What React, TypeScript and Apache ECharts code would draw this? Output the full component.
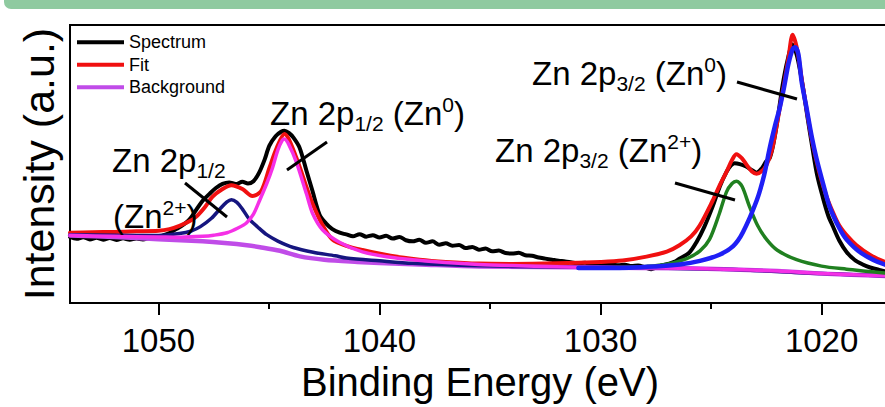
import React, { useEffect, useRef } from "react";
import * as echarts from "echarts";

// ---------- data (binding energy eV, intensity a.u.) ----------
const xTickValues = [1020, 1030, 1040, 1050];
const xMinorTickValues = [1025, 1035, 1045];
const legendNames = ["Spectrum", "Fit", "Background"];

const spectrum: [number, number][] = [
  [1054.0, 23.8], [1053.7, 23.1], [1053.4, 23.7], [1053.1, 22.9], [1052.8, 23.5], [1052.5, 22.8],
  [1052.2, 23.4], [1051.9, 22.7], [1051.6, 23.3], [1051.3, 22.8], [1051.0, 23.2], [1050.7, 22.9],
  [1050.4, 23.4], [1050.1, 23.6], [1049.8, 24.3], [1049.5, 25.2], [1049.2, 26.6], [1048.9, 28.0],
  [1048.6, 30.0], [1048.3, 33.4], [1048.0, 36.8], [1047.7, 39.2], [1047.4, 41.4], [1047.1, 42.9],
  [1046.8, 43.4], [1046.5, 42.8], [1046.2, 43.6], [1045.95, 43.0], [1045.7, 43.8], [1045.45, 46.8],
  [1045.2, 51.5], [1044.98, 56.6], [1044.7, 60.0], [1044.45, 61.6], [1044.3, 62.0], [1044.1, 61.2],
  [1043.9, 59.6], [1043.62, 56.0], [1043.3, 47.5], [1043.03, 40.3], [1042.71, 31.8], [1042.4, 28.5],
  [1042.13, 26.6], [1041.8, 25.3], [1041.5, 24.7], [1041.2, 24.0], [1040.9, 24.8], [1040.6, 23.9],
  [1040.3, 24.4], [1040.0, 23.6], [1039.7, 24.2], [1039.4, 23.2], [1039.1, 23.8], [1038.8, 22.6],
  [1038.5, 22.2], [1038.2, 22.8], [1037.9, 21.7], [1037.6, 22.2], [1037.3, 21.0], [1037.0, 21.5],
  [1036.7, 20.6], [1036.4, 20.9], [1036.1, 19.8], [1035.8, 20.2], [1035.5, 19.2], [1035.2, 19.6],
  [1034.9, 18.6], [1034.6, 18.9], [1034.3, 18.0], [1034.0, 17.8], [1033.7, 18.1], [1033.4, 17.2],
  [1033.1, 17.0], [1032.8, 16.4], [1032.5, 16.0], [1032.2, 15.6], [1031.9, 15.2], [1031.6, 15.0],
  [1031.3, 14.6], [1031.0, 14.3], [1030.7, 14.5], [1030.4, 14.0], [1030.1, 14.2], [1029.8, 13.8],
  [1029.5, 13.9], [1029.2, 13.6], [1028.9, 13.8], [1028.6, 13.3], [1028.3, 13.5], [1028.0, 12.9],
  [1027.7, 12.2], [1027.5, 12.7], [1027.2, 13.6], [1026.9, 14.2], [1026.6, 15.0], [1026.43, 16.0],
  [1026.0, 18.0], [1025.66, 21.9], [1025.3, 27.5], [1024.93, 34.7], [1024.6, 42.0], [1024.3, 47.2],
  [1024.1, 49.5], [1023.94, 50.3], [1023.7, 50.0], [1023.39, 49.0], [1023.15, 47.8], [1022.94, 46.9],
  [1022.7, 48.5], [1022.5, 51.0], [1022.35, 52.1], [1022.2, 56.5], [1022.04, 63.5], [1021.9, 71.0],
  [1021.76, 78.5], [1021.55, 87.0], [1021.31, 93.0], [1021.1, 88.5], [1020.86, 78.5], [1020.65, 67.5],
  [1020.41, 55.6], [1020.2, 46.0], [1019.95, 38.2], [1019.7, 31.5], [1019.5, 27.8], [1019.2, 22.5],
  [1018.87, 18.4], [1018.5, 15.5], [1018.14, 13.9], [1017.8, 12.8], [1017.5, 12.2], [1017.15, 11.5],
  [1016.6, 11.3], [1016.0, 11.0],
];

const fit: [number, number][] = [
  [1054.0, 25.3], [1053.0, 25.5], [1052.0, 25.6], [1051.0, 25.8], [1050.0, 26.0], [1049.5, 26.6],
  [1049.05, 27.8], [1048.6, 29.4], [1048.3, 31.0], [1047.9, 34.5], [1047.56, 38.2], [1047.1, 41.0],
  [1046.7, 42.4], [1046.2, 41.0], [1045.75, 38.5], [1045.35, 40.3], [1044.98, 48.6], [1044.66, 55.6],
  [1044.3, 60.8], [1043.8, 53.1], [1043.3, 41.7], [1043.03, 35.8], [1042.58, 28.1], [1042.13, 22.9],
  [1041.5, 20.6], [1040.77, 19.1], [1039.5, 17.0], [1038.19, 15.6], [1037.0, 14.8], [1035.5, 14.2],
  [1034.0, 14.1], [1032.0, 14.3], [1030.0, 14.8], [1029.0, 15.3], [1027.92, 16.7], [1027.0, 18.5],
  [1026.43, 20.8], [1025.9, 24.0], [1025.52, 27.8], [1024.93, 36.8], [1024.6, 42.5], [1024.3, 47.2],
  [1024.05, 51.5], [1023.85, 53.5], [1023.6, 52.0], [1023.39, 49.7], [1023.15, 47.3], [1022.94, 46.5],
  [1022.7, 47.5], [1022.49, 49.7], [1022.25, 55.0], [1022.04, 63.5], [1021.85, 72.0], [1021.7, 78.5],
  [1021.5, 88.0], [1021.31, 96.5], [1021.1, 91.0], [1020.86, 78.5], [1020.6, 66.0], [1020.41, 57.6],
  [1020.1, 47.0], [1019.77, 38.2], [1019.45, 32.0], [1019.19, 27.8], [1018.8, 23.8], [1018.42, 20.8],
  [1017.8, 17.3], [1017.15, 14.9], [1016.0, 13.0],
];

const background: [number, number][] = [
  [1054.0, 24.3], [1052.0, 23.8], [1050.0, 23.0], [1048.0, 22.2], [1047.0, 21.6], [1046.0, 20.8],
  [1045.4, 20.1], [1044.5, 18.8], [1043.6, 16.8], [1042.5, 15.6], [1041.0, 14.8], [1040.0, 14.4],
  [1038.2, 13.9], [1035.5, 13.2], [1030.0, 12.8], [1026.4, 12.5], [1024.0, 12.1], [1022.0, 11.5],
  [1020.0, 10.6], [1018.0, 10.0], [1017.0, 9.7], [1016.0, 9.6],
];

const zn2p12Zn2: [number, number][] = [
  [1054.0, 24.6], [1052.0, 24.4], [1050.0, 24.3], [1049.05, 25.0], [1048.5, 26.0], [1048.1, 27.5],
  [1047.6, 30.5], [1047.2, 34.0], [1046.9, 36.4], [1046.7, 37.2], [1046.45, 36.2], [1046.2, 33.8],
  [1045.9, 30.3], [1045.5, 27.3], [1045.1, 24.6], [1044.6, 22.3], [1043.9, 20.0], [1043.0, 18.3],
  [1042.0, 17.0], [1041.5, 16.2], [1040.0, 15.2], [1038.5, 14.3], [1036.0, 13.5], [1032.0, 13.0],
  [1028.0, 12.7], [1024.0, 12.1], [1020.0, 10.6], [1016.0, 9.6],
];

const zn2p12Zn0: [number, number][] = [
  [1054.0, 24.4], [1052.0, 24.0], [1050.0, 23.8], [1049.0, 23.7], [1048.0, 24.0], [1047.5, 24.4],
  [1046.9, 25.3], [1046.4, 27.0], [1046.02, 28.8], [1045.7, 32.0], [1045.43, 36.8], [1045.1, 43.0],
  [1044.84, 48.6], [1044.6, 55.0], [1044.4, 58.5], [1044.3, 59.0], [1044.1, 57.0], [1043.76, 50.7],
  [1043.3, 39.2], [1043.03, 32.3], [1042.58, 26.4], [1041.81, 21.9], [1040.77, 18.4], [1039.5, 16.5],
  [1038.51, 15.6], [1037.0, 14.6], [1035.5, 13.9], [1034.0, 13.5], [1032.0, 13.1], [1030.0, 12.8],
  [1026.0, 12.5], [1022.0, 11.5], [1020.0, 10.6], [1016.0, 9.6],
];

const zn2p32Zn2: [number, number][] = [
  [1031.0, 12.7], [1029.0, 12.8], [1027.92, 13.2], [1027.0, 14.0], [1026.1, 16.0],
  [1025.5, 18.8], [1025.07, 22.9], [1024.62, 32.3], [1024.3, 40.0], [1024.05, 43.0], [1023.85, 43.8],
  [1023.6, 42.0], [1023.26, 34.7], [1022.9, 28.0], [1022.49, 22.9], [1022.0, 19.0], [1021.13, 15.6],
  [1020.0, 13.3], [1018.87, 12.2], [1017.15, 10.8], [1016.0, 10.5],
];

const zn2p32Zn0: [number, number][] = [
  [1031.0, 12.6], [1029.46, 12.6], [1027.5, 13.2], [1026.43, 13.9], [1025.5, 15.2],
  [1024.62, 17.4], [1024.0, 20.5], [1023.57, 25.3], [1022.94, 36.8], [1022.6, 46.0], [1022.35, 55.6],
  [1022.1, 64.0], [1021.9, 70.0], [1021.7, 77.5], [1021.5, 86.0], [1021.3, 91.5], [1021.2, 92.0],
  [1021.05, 89.5], [1020.9, 79.5], [1020.7, 71.0], [1020.45, 60.0], [1020.23, 52.0], [1019.9, 42.0],
  [1019.64, 34.7], [1019.2, 27.0], [1018.87, 22.9], [1018.2, 18.0], [1017.15, 13.9], [1016.0, 12.3],
];

// ---------- styling ----------
const FONT = "'Liberation Sans', Arial, Helvetica, sans-serif";

const richStyles = {
  m: { fontSize: 33, fontFamily: FONT, lineHeight: 40, color: "#000" },
  sub: { fontSize: 21, fontFamily: FONT, lineHeight: 13, verticalAlign: "bottom", color: "#000" },
  sup: { fontSize: 21, fontFamily: FONT, lineHeight: 13, verticalAlign: "top", color: "#000" },
};

function annText(x: number, y: number, text: string) {
  return {
    type: "text",
    x,
    y,
    z: 100,
    style: { text, rich: richStyles, fill: "#000", align: "left", verticalAlign: "top", fontFamily: FONT },
  };
}

function leader(x1: number, y1: number, x2: number, y2: number) {
  return { type: "line", z: 100, shape: { x1, y1, x2, y2 }, style: { stroke: "#000", lineWidth: 3 } };
}

function lineSeries(name: string, data: [number, number][], color: string, width: number) {
  return {
    name,
    type: "line",
    data,
    symbol: "none",
    showSymbol: false,
    smooth: 0.3,
    color,
    lineStyle: { color, width, cap: "round", join: "round" },
    emphasis: { disabled: true },
  };
}

export default function App() {
  const ref = useRef<HTMLDivElement>(null);
  useEffect(() => {
    const chart = echarts.init(ref.current!, null, { renderer: "svg" });
    const option: any = {
      animation: false,
      backgroundColor: "#fff",
      grid: { left: 70, top: 25, right: 15, bottom: 94, show: true, borderColor: "#000", borderWidth: 2 },
      legend: {
        data: legendNames,
        orient: "vertical",
        left: 77,
        top: 31,
        padding: 0,
        itemGap: 0,
        itemWidth: 47,
        itemHeight: 4,
        icon: "rect",
        textStyle: { fontSize: 18, fontFamily: FONT, color: "#000", lineHeight: 22.5 },
        selectedMode: false,
      },
      xAxis: [
        {
          type: "value",
          min: 1016,
          max: 1054,
          inverse: true,
          name: "Binding Energy (eV)",
          nameLocation: "middle",
          nameGap: 49,
          nameTextStyle: { fontSize: 40, fontFamily: FONT, color: "#000", padding: [0, 20, 0, 0] },
          axisLine: { show: true, lineStyle: { color: "#000", width: 2 } },
          axisTick: { show: true, customValues: xTickValues, length: 12, lineStyle: { color: "#000", width: 2 } },
          axisLabel: {
            customValues: xTickValues,
            formatter: (v: number) => String(v),
            fontSize: 33,
            fontFamily: FONT,
            color: "#000",
            margin: 21,
          },
          splitLine: { show: false },
        },
        {
          type: "value",
          min: 1016,
          max: 1054,
          inverse: true,
          position: "bottom",
          axisLine: { show: false },
          axisTick: { show: true, customValues: xMinorTickValues, length: 6, lineStyle: { color: "#000", width: 2 } },
          axisLabel: { show: false },
          splitLine: { show: false },
        },
      ],
      yAxis: {
        type: "value",
        min: 0,
        max: 100,
        name: "Intensity (a.u.)",
        nameLocation: "middle",
        nameGap: 10,
        nameTextStyle: { fontSize: 43, fontFamily: FONT, color: "#000" },
        axisLine: { show: true, lineStyle: { color: "#000", width: 2 } },
        axisTick: { show: false },
        axisLabel: { show: false },
        splitLine: { show: false },
      },
      series: [
        lineSeries("Spectrum", spectrum, "#000000", 4),
        lineSeries("Fit", fit, "#f01010", 4),
        lineSeries("Background", background, "#c04ce8", 4.5),
        lineSeries("Zn 2p1/2 (Zn2+)", zn2p12Zn2, "#16167f", 3.5),
        lineSeries("Zn 2p1/2 (Zn0)", zn2p12Zn0, "#f530e6", 3.5),
        lineSeries("Zn 2p3/2 (Zn2+)", zn2p32Zn2, "#208020", 3.5),
        lineSeries("Zn 2p3/2 (Zn0)", zn2p32Zn0, "#1f1ff5", 4.5),
      ],
      graphic: [
        { type: "rect", z: 100, shape: { x: 4, y: -12, width: 960, height: 21, r: 7 }, style: { fill: "#8fcaa0" } },
        annText(270, 93.5, "{m|Zn 2p}{sub|1/2}{m| (Zn}{sup|0}{m|)}"),
        annText(112, 140.5, "{m|Zn 2p}{sub|1/2}"),
        annText(113, 196.5, "{m|(Zn}{sup|2+}{m|)}"),
        annText(532, 53.5, "{m|Zn 2p}{sub|3/2}{m| (Zn}{sup|0}{m|)}"),
        annText(495, 130.5, "{m|Zn 2p}{sub|3/2}{m| (Zn}{sup|2+}{m|)}"),
        leader(327, 142, 287, 170),
        leader(185, 183, 227, 217),
        leader(737, 82, 797, 99),
        leader(675, 183, 735, 200),
      ],
    };
    chart.setOption(option);
    return () => chart.dispose();
  }, []);
  return (
    <div
      style={{ position: "fixed", left: 0, top: 0, width: 885, height: 407, overflow: "hidden", background: "#fff" }}
    >
      <div ref={ref} style={{ width: 925, height: 407 }} />
    </div>
  );
}
